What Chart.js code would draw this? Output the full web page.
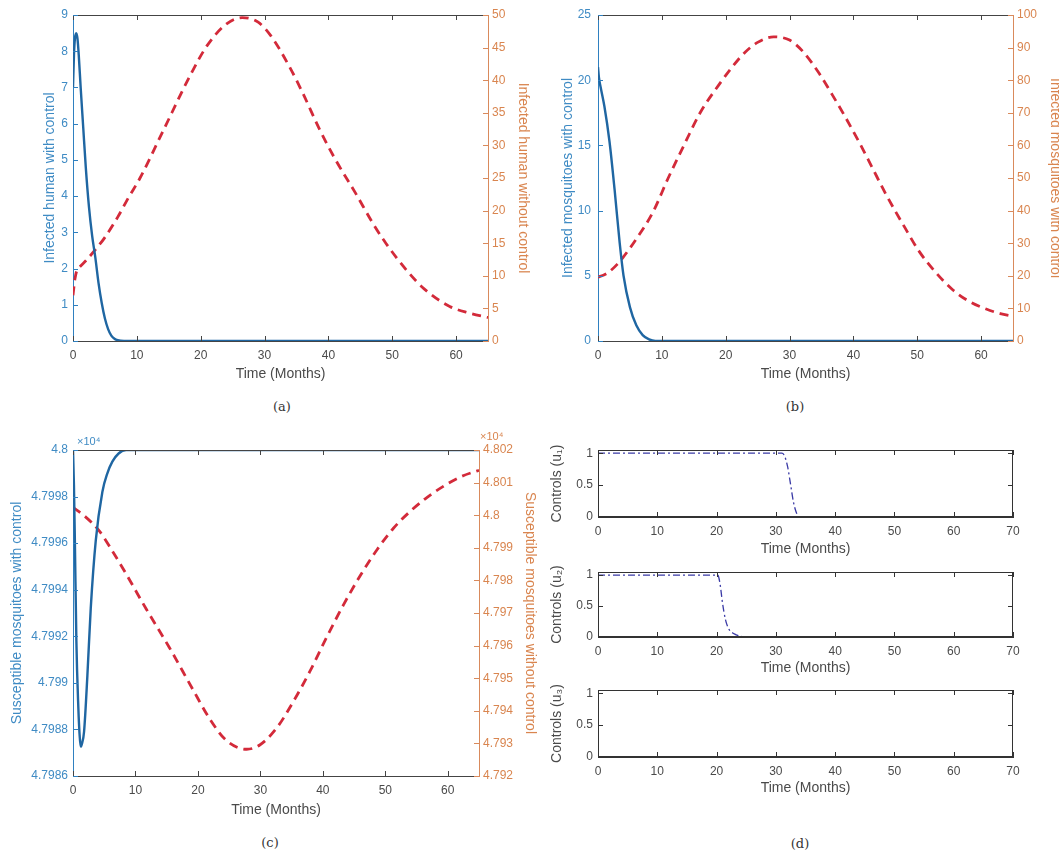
<!DOCTYPE html>
<html lang="en">
<head>
<meta charset="UTF-8">
<title>Infected and susceptible populations with and without control</title>
<script src="https://cdn.jsdelivr.net/npm/chart.js@4.4.1/dist/chart.umd.min.js"></script>
<style>
html,body{margin:0;padding:0;background:#fff;overflow:hidden}
#wrap{position:relative;width:1059px;height:854px}
canvas{position:absolute}
.cap{position:absolute;font:13px "DejaVu Serif","Liberation Serif",serif;color:#333;transform:translate(-50%,-50%)}
</style>
</head>
<body>
<div id="wrap">
<canvas id="ca" style="left:0;top:0;width:535px;height:392px" width="535" height="392"></canvas>
<canvas id="cb" style="left:525px;top:0;width:534px;height:392px" width="534" height="392"></canvas>
<canvas id="cc" style="left:0;top:425px;width:545px;height:401px" width="545" height="401"></canvas>
<canvas id="cd1" style="left:535px;top:435px;width:495px;height:126px" width="495" height="126"></canvas>
<canvas id="cd2" style="left:535px;top:557px;width:495px;height:123px" width="495" height="123"></canvas>
<canvas id="cd3" style="left:535px;top:675px;width:495px;height:125px" width="495" height="125"></canvas>
<div class="cap" style="left:282px;top:406px">(a)</div>
<div class="cap" style="left:795px;top:406px">(b)</div>
<div class="cap" style="left:270px;top:842px">(c)</div>
<div class="cap" style="left:800px;top:843px">(d)</div>
</div>
<script>
// (a) infected humans
const tHumCtl=[0,0.15,0.3,0.5,0.7,0.9,1.2,1.6,2.0,2.5,3.0,3.5,4.0,4.5,5.0,5.5,6.0,6.5,7.0,8.0,10,65];
const humCtl=[7.0,7.9,8.35,8.5,8.35,7.9,7.0,5.9,4.8,3.7,2.9,2.3,1.6,1.05,0.62,0.33,0.15,0.06,0.02,0,0,0];
const tHumNo=[0,0.3,0.6,1,2,3.5,5,7,8.7,10.5,14,18.5,21,24,26.5,29,31,34,36,38.6,41,44.3,47,49,52.3,55,59,62,65];
const humNo=[7.0,9.5,10.8,11.3,12.3,14.0,15.9,19.0,22.0,25.0,32.0,41.0,45.3,48.6,49.6,48.9,46.8,41.9,38.0,32.5,28.0,22.6,18.0,15.0,10.8,8.0,5.3,4.3,3.6];

// (b) infected mosquitoes
const tMosCtl=[0,0.15,0.4,1,1.8,2.6,3.4,4,5,6,7,8,9,65];
const mosCtl=[21,20.2,19.5,18.0,15.3,11.6,7.5,5.0,2.6,1.2,0.45,0.12,0,0];
const tMosNo=[0,1,1.8,3,3.9,6,8.6,11,13.7,16,18.9,21,23,25,27.5,30,32,34.5,36.7,38.5,40.9,43,45.1,48,50.3,53,55.5,58,60.8,63,65];
const mosNo=[19.6,20.3,21.3,23.5,25.6,31.3,39.5,50,61,70,78.5,84,88.5,91.6,93.3,92.3,89,82.5,75.5,69.5,61,53,45,35,27.5,20.8,15.8,12.3,9.8,8.4,7.6];

// (c) susceptible mosquitoes
const tSusCtl=[0,0.15,0.3,0.54,0.86,1.05,1.23,1.45,1.77,2.3,2.84,3.64,4.7,5.5,6.3,7.3,8.5,65];
const susCtl=[48000,47998.5,47996.1,47991.8,47988.9,47987.8,47987.26,47987.4,47987.9,47990.3,47993.2,47996.1,47998.2,47999.0,47999.5,47999.85,48000,48000];
const tSusNo=[0,2,4.2,6.3,8.5,11.7,15.4,19.2,21.9,24.5,27.8,29.9,32.6,35.3,37.9,40.6,43.3,46,48.7,51.3,54,56.7,59.4,62.1,65];
const susNo=[48002.4,47999.5,47995.2,47989,47982,47971.3,47959.5,47946.5,47937.5,47931,47928.2,47929.5,47934.7,47942.9,47952,47962.5,47972.5,47981.5,47989.5,47996,48001.2,48005.5,48009,48011.8,48013.8];

// (d) controls
const tU1=[0,31,31.5,32,32.5,33,33.5,34,65];
const u1=[1,1,0.95,0.78,0.5,0.22,0.06,0,0];
const tU2=[0,20.2,20.6,21,21.5,22,23,24,25,65];
const u2=[1,1,0.85,0.55,0.28,0.14,0.05,0.015,0,0];
const tU3=[0,65];
const u3=[0,0];

// tick positions
const timeTicks=[0,10,20,30,40,50,60];
const timeTicksD=[0,10,20,30,40,50,60,70];
const humCtlTicks=[0,1,2,3,4,5,6,7,8,9];
const humNoTicks=[0,5,10,15,20,25,30,35,40,45,50];
const mosCtlTicks=[0,5,10,15,20,25];
const mosNoTicks=[0,10,20,30,40,50,60,70,80,90,100];
const susCtlTicks=[47986,47988,47990,47992,47994,47996,47998,48000];
const susNoTicks=[47920,47930,47940,47950,47960,47970,47980,47990,48000,48010,48020];
const ctlTicks=[0,0.5,1];

const BLUE='#1f66a2', RED='#d32a3a', UCOL='#3a3aa6';
const LAX='#2f80c0', LTX='#3f8bc4', RAX='#d98a5c', RTX='#d9854f';
const AX='#444', TK='#4a4a4a';
const FONT='"Liberation Sans", Arial, sans-serif';
Chart.defaults.font.family=FONT;

function xy(t,v){return t.map((x,i)=>({x,y:v[i]}));}
function setTicks(arr){return s=>{s.ticks=arr.map(v=>({value:v}));};}

const boxPlugin={
  id:'mbox',
  afterDatasetsDraw(chart,args,o){
    const {ctx,chartArea:a,scales:s}=chart;
    const L=5;
    ctx.save();
    ctx.lineWidth=1;
    ctx.strokeStyle=o.box||AX;
    ctx.beginPath();
    ctx.moveTo(a.left,a.top+0.5);ctx.lineTo(a.right,a.top+0.5);
    if(!s.y2){
      ctx.moveTo(a.right-0.5,a.top);ctx.lineTo(a.right-0.5,a.bottom);
      // axes on top of the control curves
      ctx.moveTo(a.left,a.bottom-0.5);ctx.lineTo(a.right,a.bottom-0.5);
    }
    s.x.ticks.forEach(t=>{
      const p=Math.round(s.x.getPixelForValue(t.value))+0.5;
      ctx.moveTo(p,a.bottom);ctx.lineTo(p,a.bottom-L);
      ctx.moveTo(p,a.top);ctx.lineTo(p,a.top+L);
    });
    ctx.stroke();
    const yt=(sc,x,dir,col)=>{
      ctx.strokeStyle=col;ctx.beginPath();
      sc.ticks.forEach(t=>{
        const p=Math.round(sc.getPixelForValue(t.value))+0.5;
        ctx.moveTo(x,p);ctx.lineTo(x+dir*L,p);
      });
      ctx.stroke();
    };
    yt(s.y,a.left,1,s.y.options.border.color);
    if(s.y2)yt(s.y2,a.right,-1,s.y2.options.border.color);
    else yt(s.y,a.right,-1,o.box||AX);
    ctx.font='11px '+FONT;
    if(o.expL){ctx.fillStyle=LTX;ctx.textAlign='left';ctx.fillText(o.expL,a.left+4,a.top-5);}
    if(o.expR){ctx.fillStyle=RTX;ctx.textAlign='left';ctx.fillText(o.expR,a.right+1,a.top-10);}
    ctx.restore();
  }
};

function xAxis(ticks,max,h,tp){
  return {type:'linear',min:0,max:max,afterBuildTicks:setTicks(ticks),afterFit:s=>{s.height=h;},
    grid:{drawOnChartArea:false,drawTicks:false},border:{color:AX},
    ticks:{color:TK,padding:7,maxRotation:0,font:{size:12}},
    title:{display:true,text:'Time (Months)',color:TK,font:{size:14,lineHeight:1},padding:{top:0,bottom:tp}}};
}
function yAxis(pos,min,max,ticks,w,col,tcol,title,tpad,lpad,fmt){
  return {type:'linear',position:pos,min:min,max:max,afterBuildTicks:setTicks(ticks),afterFit:s=>{s.width=w;},
    grid:{drawOnChartArea:false,drawTicks:false},border:{color:col},
    ticks:{color:tcol,padding:lpad,font:{size:12},callback:fmt||(v=>v)},
    title:{display:true,text:title,color:tcol,font:{size:14,lineHeight:1},padding:{top:tpad,bottom:0}}};
}

function dual(id,o){
  new Chart(document.getElementById(id),{
    type:'line',
    data:{datasets:[
      {data:xy(o.t1,o.v1),yAxisID:'y',borderColor:BLUE,borderWidth:2.4,pointRadius:0,cubicInterpolationMode:'monotone'},
      {data:xy(o.t2,o.v2),yAxisID:'y2',borderColor:RED,borderWidth:2.8,borderDash:[9,6],pointRadius:0,cubicInterpolationMode:'monotone'}
    ]},
    options:{
      responsive:false,animation:false,events:[],
      layout:{padding:{top:o.padTop,left:0,right:0,bottom:0}},
      plugins:{legend:{display:false},tooltip:{enabled:false},mbox:{expL:o.expL,expR:o.expR}},
      scales:{
        x:xAxis(timeTicks,65,o.xh,o.xtp),
        y:yAxis('left',o.y1[0],o.y1[1],o.y1t,o.yw,LAX,LTX,o.y1title,o.y1tp,o.y1lp,o.fmt1),
        y2:yAxis('right',o.y2[0],o.y2[1],o.y2t,o.y2w,RAX,RTX,o.y2title,o.y2tp,4,o.fmt2)
      }
    },
    plugins:[boxPlugin]
  });
}

function ctl(id,label,t,u,xh){
  new Chart(document.getElementById(id),{
    type:'line',
    data:{datasets:[{data:xy(t,u),borderColor:UCOL,borderWidth:1.3,borderDash:[7,3,2,3],pointRadius:0,cubicInterpolationMode:'monotone'}]},
    options:{
      responsive:false,animation:false,events:[],
      layout:{padding:{top:15,left:0,right:17,bottom:0}},
      plugins:{legend:{display:false},tooltip:{enabled:false},mbox:{box:'#333'}},
      scales:{
        x:Object.assign(xAxis(timeTicksD,70,xh,5),{border:{color:'#333'}}),
        y:yAxis('left',0,1.05,ctlTicks,63,'#333',TK,label,15,5)
      }
    },
    plugins:[boxPlugin]
  });
}

dual('ca',{t1:tHumCtl,v1:humCtl,t2:tHumNo,v2:humNo,padTop:15,xh:51,xtp:11,yw:73,y2w:47,
  y1:[0,9],y1t:humCtlTicks,y1title:'Infected human with control',y1tp:43,y1lp:5,
  y2:[0,50],y2t:humNoTicks,y2title:'Infected human without control',y2tp:5});
dual('cb',{t1:tMosCtl,v1:mosCtl,t2:tMosNo,v2:mosNo,padTop:15,xh:51,xtp:11,yw:73,y2w:46,
  y1:[0,25],y1t:mosCtlTicks,y1title:'Infected mosquitoes with control',y1tp:36,y1lp:7,
  y2:[0,100],y2t:mosNoTicks,y2title:'Infected mosquitoes with control',y2tp:-3});
dual('cc',{t1:tSusCtl,v1:susCtl,t2:tSusNo,v2:susNo,padTop:25,xh:50,xtp:9,yw:73,y2w:66,
  y1:[47986,48000],y1t:susCtlTicks,y1title:'Susceptible mosquitoes with control',y1tp:10,y1lp:5,
  y2:[47920,48020],y2t:susNoTicks,y2title:'Susceptible mosquitoes without control',y2tp:8,
  fmt1:v=>String(+(v/1e4).toFixed(4)),fmt2:v=>String(+(v/1e4).toFixed(3)),expL:'\u00d710\u2074',expR:'\u00d710\u2074'});
ctl('cd1','Controls (u\u2081)',tU1,u1,44);
ctl('cd2','Controls (u\u2082)',tU2,u2,43);
ctl('cd3','Controls (u\u2083)',tU3,u3,43);
</script>
</body>
</html>
